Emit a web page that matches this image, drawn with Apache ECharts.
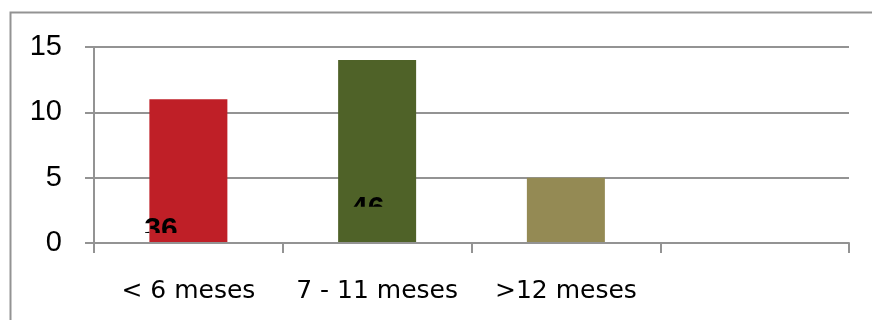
<!DOCTYPE html>
<html>
<head>
<meta charset="utf-8">
<script src="https://cdn.jsdelivr.net/npm/echarts@6/dist/echarts.min.js"></script>
<style>
html,body{margin:0;padding:0;background:#fff;}
#c{width:872px;height:320px;}
</style>
</head>
<body>
<div id="c"></div>
<script>
// ---- data ----
var categories = ['< 6 meses', '7 - 11 meses', '>12 meses', ''];
var values = [11, 14, 5];
var yTicks = [0, 5, 10, 15];
// partially hidden data labels (text, category index, y-level of label centre, y-level of clip edge)
var labelTexts = ['36', '46'];
var labelCats = [0, 1];
var labelLevels = [1.04, 2.65];
var labelClipLevels = [0.77, 2.77];

// ---- style ----
var barColors = ['#BF1F27', '#4F6228', '#948A54'];
var labelDx = [-27.5, -9.5];
var gray = '#939393';

var chart = echarts.init(document.getElementById('c'), null, {renderer: 'canvas'});
chart.setOption({
  animation: false,
  backgroundColor: '#fff',
  graphic: [{
    type: 'rect', left: 8, top: 10, z: -10,
    shape: {width: 900, height: 400},
    style: {fill: 'none', stroke: gray, lineWidth: 2}
  }],
  grid: {left: 94, right: 23, top: 47, bottom: 77},
  xAxis: {
    type: 'category',
    data: categories,
    z: 5,
    axisLine: {show: true, lineStyle: {color: gray, width: 2}},
    axisTick: {show: true, length: 10, lineStyle: {color: gray, width: 2}},
    axisLabel: {
      color: '#000', fontFamily: 'DejaVu Sans', fontSize: 25, margin: 36,
      interval: 0
    }
  },
  yAxis: {
    type: 'value',
    min: yTicks[0], max: yTicks[yTicks.length - 1], interval: 5,
    axisLine: {show: true, lineStyle: {color: gray, width: 2}},
    axisTick: {show: true, length: 9, lineStyle: {color: gray, width: 2}},
    splitLine: {show: true, lineStyle: {color: gray, width: 2}},
    axisLabel: {color: '#000', fontFamily: 'Liberation Sans', fontSize: 29, margin: 32}
  },
  series: [{
    type: 'bar',
    barWidth: 78,
    data: values.map(function (v, i) {
      return {value: v, itemStyle: {color: barColors[i]}};
    })
  }, {
    type: 'custom',
    z: 4,
    clip: false,
    data: labelTexts.map(function (t, i) {
      return [labelCats[i], labelLevels[i], labelClipLevels[i]];
    }),
    renderItem: function (params, api) {
      var i = params.dataIndex;
      var p = api.coord([api.value(0), api.value(1)]);
      var clipY = api.coord([api.value(0), api.value(2)])[1];
      var x = p[0] + labelDx[i];
      return {
        type: 'text',
        style: {
          text: labelTexts[i],
          x: x, y: p[1],
          fill: '#000',
          font: 'bold 30px "Liberation Sans"',
          textAlign: 'center',
          textVerticalAlign: 'middle'
        },
        clipPath: {
          type: 'rect',
          shape: {x: x - 40, y: p[1] - 40, width: 80, height: clipY - (p[1] - 40)}
        }
      };
    }
  }]
});
</script>
</body>
</html>
